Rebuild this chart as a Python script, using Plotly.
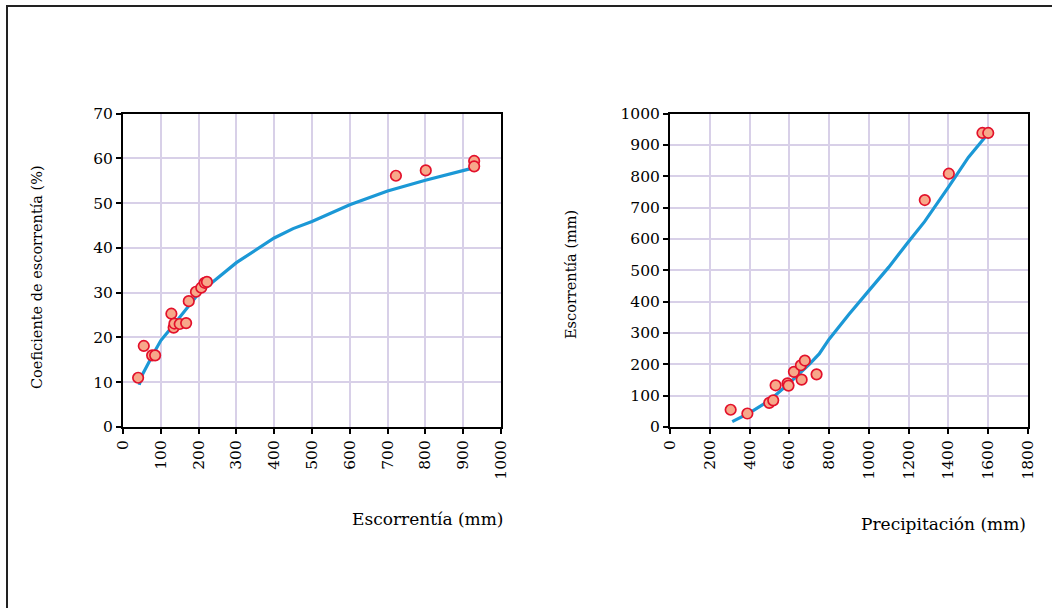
import plotly.graph_objects as go

W, H = 1052, 608

# Left chart: runoff coefficient vs runoff
esc_obs = [40, 55, 77, 85, 128, 134, 136, 150, 167, 174, 193, 207, 216, 222, 722, 801, 929, 929]
coef_obs = [11.0, 18.1, 16.0, 16.0, 25.3, 22.2, 23.1, 23.0, 23.2, 28.1, 30.2, 31.1, 32.2, 32.4, 56.1, 57.3, 59.4, 58.2]
esc_fit = [43, 50, 80, 100, 130, 150, 200, 300, 350, 400, 450, 500, 600, 700, 800, 925]
coef_fit = [9.4, 11.5, 16.3, 19.3, 22.4, 24.5, 29.8, 36.7, 39.5, 42.2, 44.3, 45.9, 49.6, 52.7, 55.1, 57.8]

# Right chart: runoff vs precipitation
prec_obs = [305, 389, 499, 519, 531, 591, 596, 623, 658, 678, 662, 737, 1281, 1402, 1571, 1600]
run_obs = [55, 43, 77, 85, 133, 139, 132, 176, 197, 212, 151, 168, 724, 808, 938, 938]
prec_fit = [313, 400, 500, 600, 700, 750, 800, 900, 1000, 1100, 1200, 1280, 1400, 1500, 1585]
run_fit = [17, 45, 85, 140, 200, 233, 280, 360, 435, 510, 592, 655, 765, 860, 925]

left_xticks = list(range(0, 1001, 100))
left_yticks = list(range(0, 71, 10))
right_xticks = list(range(0, 1801, 200))
right_yticks = list(range(0, 1001, 100))

FONT = "DejaVu Serif"
LINE_C = "#1b98d6"
MK_FILL = "#f7a88a"
MK_LINE = "#e3112b"
GRID_C = "#d8d0e8"

fig = go.Figure()

fig.add_trace(go.Scatter(x=esc_fit, y=coef_fit, mode="lines",
                         line=dict(color=LINE_C, width=3.2), xaxis="x", yaxis="y",
                         showlegend=False, hoverinfo="skip"))
fig.add_trace(go.Scatter(x=esc_obs, y=coef_obs, mode="markers",
                         marker=dict(size=10.5, color=MK_FILL, line=dict(color=MK_LINE, width=1.7)),
                         xaxis="x", yaxis="y", showlegend=False))
fig.add_trace(go.Scatter(x=prec_fit, y=run_fit, mode="lines",
                         line=dict(color=LINE_C, width=3.2), xaxis="x2", yaxis="y2",
                         showlegend=False, hoverinfo="skip"))
fig.add_trace(go.Scatter(x=prec_obs, y=run_obs, mode="markers",
                         marker=dict(size=10.5, color=MK_FILL, line=dict(color=MK_LINE, width=1.7)),
                         xaxis="x2", yaxis="y2", showlegend=False))

def common(dom, ticks, anchor):
    return dict(domain=dom, range=[ticks[0], ticks[-1]], tickvals=ticks,
                ticktext=[str(t) for t in ticks],
                showgrid=True, gridcolor=GRID_C, gridwidth=1.5,
                showline=True, linecolor="black", linewidth=2, mirror=True,
                ticks="outside", ticklen=5, tickwidth=1.5, tickcolor="black",
                zeroline=False, anchor=anchor, automargin=False,
                tickfont=dict(family=FONT, size=15.5, color="black"))

def xax(dom, ticks, anchor):
    d = common(dom, ticks, anchor)
    d["tickangle"] = -90
    return d

ydom = [(H - 427) / H, (H - 113.5) / H]
fig.update_layout(
    width=W, height=H, autosize=False,
    margin=dict(l=0, r=0, t=0, b=0, pad=0),
    paper_bgcolor="white", plot_bgcolor="white",
    xaxis=xax([123 / W, 501 / W], left_xticks, "y"),
    yaxis=common(ydom, left_yticks, "x"),
    xaxis2=xax([670 / W, 1028 / W], right_xticks, "y2"),
    yaxis2=common(ydom, right_yticks, "x2"),
    font=dict(family=FONT, color="black"),
    showlegend=False,
)

annos = [
    dict(text="Escorrentía (mm)", x=505 / W, y=(H - 519) / H, xanchor="right", yanchor="middle", size=17),
    dict(text="Precipitación (mm)", x=1028 / W, y=(H - 524) / H, xanchor="right", yanchor="middle", size=17),
    dict(text="Coeficiente de escorrentía (%)", x=37 / W, y=(H - 277) / H, textangle=-90,
         xanchor="center", yanchor="middle", size=14.5),
    dict(text="Escorrentía (mm)", x=571 / W, y=(H - 275) / H, textangle=-90,
         xanchor="center", yanchor="middle", size=14.5),
]
for a in annos:
    sz = a.pop("size")
    a.update(xref="paper", yref="paper", showarrow=False,
             font=dict(family=FONT, size=sz, color="black"))
fig.update_layout(annotations=annos)

# outer frame
fig.add_shape(type="rect", xref="paper", yref="paper",
              x0=7 / W, x1=1.05, y0=-0.05, y1=(H - 6) / H,
              line=dict(color="#222222", width=2), layer="below")

fig.write_html("out.html",
               config={"displayModeBar": False},
               post_script="document.body.style.margin='0';document.body.style.overflow='hidden';")
